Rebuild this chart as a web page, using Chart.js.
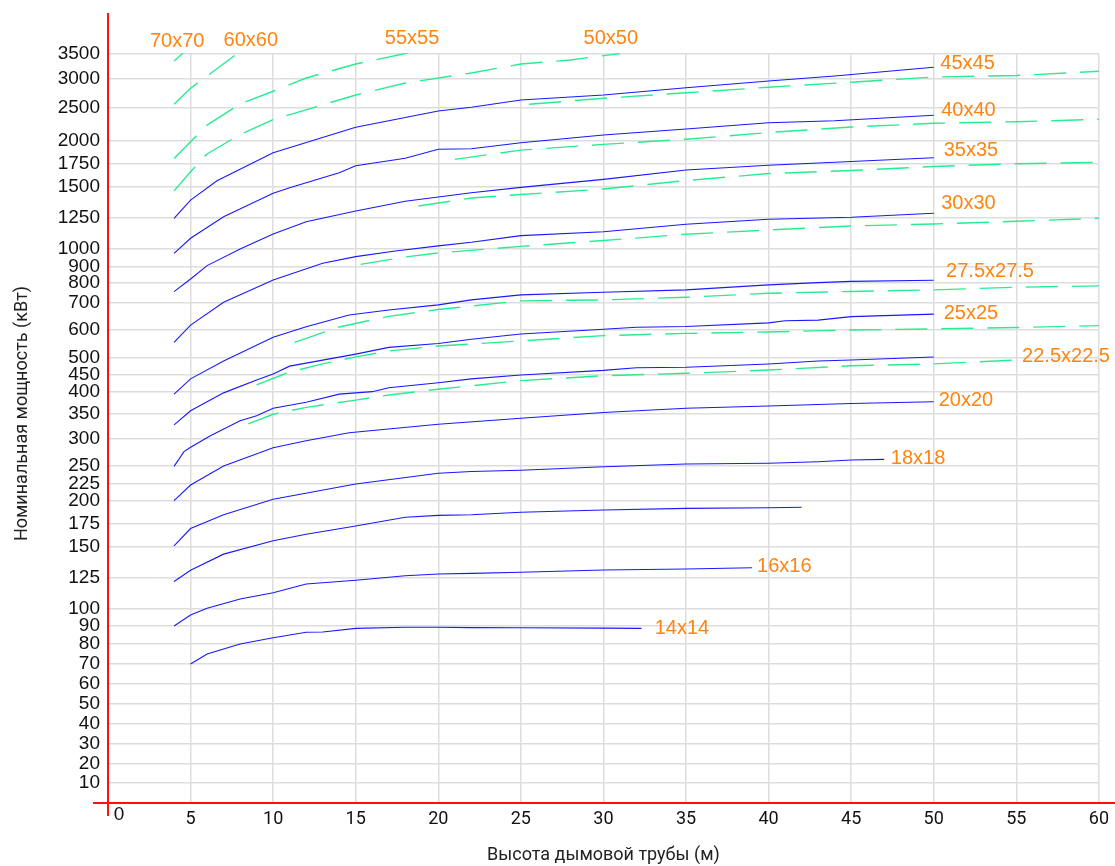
<!DOCTYPE html>
<html>
<head>
<meta charset="utf-8">
<script src="https://cdn.jsdelivr.net/npm/chart.js@4/dist/chart.umd.min.js"></script>
<style>
  html, body { margin: 0; padding: 0; background: #fff; }
</style>
</head>
<body>
<canvas id="myChart" width="1115" height="866"></canvas>
<script>
// tick labels
var yTicks = [10, 20, 30, 40, 50, 60, 70, 80, 90, 100, 125, 150, 175, 200, 225, 250, 300, 350, 400, 450, 500,
  600, 700, 800, 900, 1000, 1250, 1500, 1750, 2000, 2500, 3000, 3500];
// where each tick sits on the (hand drawn) power axis, as share of the axis height
var yTickShare = [0.0267, 0.0530, 0.0792, 0.1055, 0.1322, 0.1589, 0.1856, 0.2123, 0.2363, 0.2590, 0.3008, 0.3422,
  0.3725, 0.4036, 0.4268, 0.4499, 0.4869, 0.5203, 0.5487, 0.5724, 0.5941, 0.6315, 0.6680, 0.6947, 0.7160, 0.7401,
  0.7820, 0.8228, 0.8535, 0.8838, 0.9283, 0.9666, 1];

// solid (blue) curves: chimney height (m) -> rated power (kW)
var s14h = [5, 6, 8, 10, 12, 13, 15, 18, 20, 22, 25, 30, 32.3];
var s14p = [70, 75, 80, 83.5, 86.5, 86.7, 88.7, 89.3, 89.3, 89.1, 89, 88.8, 88.7];
var s16h = [4, 5, 6, 8, 10, 12, 15, 18, 20, 22, 25, 30, 35, 39];
var s16p = [90, 96.5, 100.6, 108, 113, 120, 123, 126.6, 128, 128.5, 129.4, 131.2, 132, 133];
var s17h = [4, 5, 7, 10, 12, 15, 18, 20, 22, 25, 30, 35, 40, 42];
var s17p = [122, 131, 144, 156.6, 163.7, 172.8, 182.2, 184.3, 185, 187.6, 190, 191.8, 192.5, 193];
var s18h = [4, 5, 7, 10, 15, 20, 22, 25, 30, 35, 40, 43, 45, 47];
var s18p = [151, 170, 185, 202, 224, 239.5, 242, 244, 249, 253.6, 255, 257.8, 260.8, 262];
var s20h = [4, 5, 7, 10, 12, 14.6, 20, 25, 30, 35, 40, 45, 50];
var s20p = [200, 222.6, 250, 283, 295.7, 311, 328, 340, 352, 362, 367, 373, 377];
var s22h = [4, 4.6, 5, 6.2, 8, 9, 10, 12, 14, 16, 17, 20, 22, 25, 30, 32, 35, 40, 43, 45, 50];
var s22p = [249.5, 276, 284, 305, 335, 345, 362, 376, 395, 401, 412, 426, 437, 448, 462, 470, 471.6, 481.4, 490.6, 494, 503.6];
var s25h = [4, 5, 7, 9, 10, 11, 15, 17, 20, 22, 25, 30, 32, 35, 40, 41, 43, 45, 50];
var s25p = [327, 356, 398, 434, 451, 475, 514, 538, 552, 567, 586, 603, 610, 613, 626, 634, 636, 649, 658];
var s27h = [4, 5, 7, 10, 12, 14.6, 17, 20, 22, 25, 30, 35, 40, 43, 45, 50];
var s27p = [395, 437, 491, 574, 612, 655, 673, 692, 714, 739, 752, 764, 789, 800, 808, 815];
var s30h = [4, 5, 7, 10, 13, 15, 17.4, 20, 22, 25, 30, 35, 40, 45, 50];
var s30p = [556, 618, 702, 817, 919, 956, 987, 1022, 1051, 1104, 1135, 1194, 1234, 1250, 1283];
var s35h = [4, 5, 6, 8, 10, 12, 15, 18, 20, 22, 25, 30, 35, 40, 45, 50];
var s35p = [755, 823, 906, 998, 1117, 1215, 1302, 1381, 1416, 1451, 1495, 1580, 1682, 1733, 1774, 1816];
var s40h = [4, 5, 7, 10, 11, 14, 15, 18, 20, 22, 25, 30, 35, 40, 44, 50];
var s40p = [974, 1083, 1255, 1446, 1492, 1652, 1728, 1810, 1909, 1915, 1981, 2090, 2180, 2275, 2305, 2386];
var s45h = [4, 5, 6.6, 10, 15, 20, 22, 25, 30, 35, 40, 44, 50];
var s45p = [1242, 1391, 1565, 1871, 2206, 2450, 2507, 2634, 2721, 2848, 2965, 3060, 3234];

// dashed (green) curves
var g22h = [8.5, 10, 12, 15, 17, 20, 25, 30, 35, 40, 45, 50, 55];
var g22p = [329, 348, 364, 381, 393, 408, 432, 446, 453, 463, 476, 482, 494];
var g25h = [9, 11, 13, 15, 17, 20, 25, 30, 35, 40, 45, 50, 55, 60];
var g25p = [420, 457, 482, 504, 525, 543, 561, 580, 588, 593, 600, 604, 609, 616];
var g27h = [11.3, 14, 17, 20, 25, 30, 35, 40, 45, 50, 55, 60];
var g27p = [556, 611, 650, 675, 709, 714, 727, 747, 756, 764, 777, 784];
var g30h = [15.3, 18, 20, 25, 30, 35, 40, 45, 50, 55, 60];
var g30p = [913, 954, 976, 1018, 1065, 1115, 1149, 1181, 1197, 1218, 1242];
var g35h = [18.8, 22, 25, 30, 35, 40, 45, 50, 55, 60];
var g35p = [1342, 1408, 1436, 1481, 1567, 1643, 1676, 1720, 1750, 1765];
var g40h = [21, 25, 30, 35, 40, 45, 50, 55, 60];
var g40p = [1798, 1900, 1963, 2026, 2128, 2210, 2266, 2290, 2326];
var g45h = [25.5, 30, 35, 40, 45, 50, 55, 60];
var g45p = [2559, 2665, 2761, 2857, 2944, 3040, 3070, 3154];
var g50h = [4, 5, 6, 8, 10, 12.5, 15, 18, 22, 25, 28, 31];
var g50p = [1466, 1662, 1857, 2098, 2323, 2507, 2721, 2930, 3120, 3300, 3380, 3510];
var g55h = [4, 5, 6, 8, 10, 12, 15, 18, 19];
var g55p = [1807, 1991, 2240, 2564, 2787, 3020, 3300, 3510, 3560];
var g60h = [4, 5, 8];
var g60p = [2560, 2840, 3550];
var g70h = [4, 5];
var g70p = [3360, 3650];

// curve names and where they are written (height m, power kW)
var names = ['70x70', '60x60', '55x55', '50x50', '45x45', '40x40', '35x35', '30x30', '27.5x27.5', '25x25',
  '22.5x22.5', '20x20', '18x18', '16x16', '14x14'];
var nameH = [2.54, 7.0, 16.76, 28.8, 50.4, 50.45, 50.6, 50.45, 50.75, 50.6, 55.35, 50.3, 47.4, 39.3, 33.1];
var nameP = [3760, 3780, 3820, 3820, 3320, 2465, 1901, 1359, 873, 662, 504, 379, 264, 134, 88.9];

var yStops = [0].concat(yTicks);
var yShares = [0].concat(yTickShare);

function shareOf(v) {
    var i = 1;
    while (i < yStops.length - 1 && v > yStops[i]) i++;
    return yShares[i - 1] + (v - yStops[i - 1]) / (yStops[i] - yStops[i - 1]) * (yShares[i] - yShares[i - 1]);
}
function valueOf(s) {
    var i = 1;
    while (i < yShares.length - 1 && s > yShares[i]) i++;
    return yStops[i - 1] + (s - yShares[i - 1]) / (yShares[i] - yShares[i - 1]) * (yStops[i] - yStops[i - 1]);
}

class StopScale extends Chart.LinearScale {
    static id = 'stops';
    static defaults = {};
    determineDataLimits() { this.min = 0; this.max = 3500; }
    buildTicks() { return yTicks.map(function (v) { return { value: v }; }); }
    getPixelForValue(v) { return this.getPixelForDecimal(shareOf(v)); }
    getValueForPixel(p) { return valueOf(this.getDecimalForPixel(p)); }
}
Chart.register(StopScale);

function curve(h, p, dashed) {
    return {
        data: h.map(function (v, i) { return { x: v, y: p[i] }; }),
        borderColor: dashed ? 'rgb(40,236,145)' : 'rgb(25,25,255)',
        borderWidth: dashed ? 1.4 : 1.1,
        borderDash: dashed ? [32, 14] : [],
        pointRadius: 0,
        tension: 0,
        fill: false
    };
}

var overlay = {
    id: 'overlay',
    afterDatasetsDraw: function (chart) {
        var ctx = chart.ctx, a = chart.chartArea, x = chart.scales.x, y = chart.scales.y;
        ctx.save();
        ctx.font = '20px "Liberation Sans", Arial, sans-serif';
        ctx.fillStyle = '#ff8410';
        ctx.textAlign = 'left';
        ctx.textBaseline = 'middle';
        names.forEach(function (n, i) {
            ctx.fillText(n, x.getPixelForValue(nameH[i]), y.getPixelForValue(nameP[i]));
        });
        // red axes
        ctx.strokeStyle = '#ff1010';
        ctx.lineWidth = 2;
        ctx.beginPath();
        ctx.moveTo(a.left - 15, a.bottom);
        ctx.lineTo(chart.width, a.bottom);
        ctx.moveTo(a.left, a.top - 41);
        ctx.lineTo(a.left, a.bottom + 13);
        ctx.stroke();
        ctx.fillStyle = '#111';
        ctx.font = '19px "Liberation Sans", Arial, sans-serif';
        ctx.textAlign = 'center';
        ctx.fillText('0', a.left + 11, a.bottom + 12);
        // y axis title, sits a little above the middle
        ctx.fillStyle = '#222';
        ctx.font = '18px Roboto, sans-serif';
        ctx.translate(22, (a.top + a.bottom) / 2 - 15);
        ctx.rotate(-Math.PI / 2);
        ctx.fillText('Номинальная мощность (кВт)', 0, 0);
        ctx.restore();
    }
};

var ctx = document.getElementById('myChart').getContext('2d');
var myChart = new Chart(ctx, {
    type: 'line',
    data: {
        datasets: [
            curve(s14h, s14p), curve(s16h, s16p), curve(s17h, s17p), curve(s18h, s18p),
            curve(s20h, s20p), curve(s22h, s22p), curve(s25h, s25p), curve(s27h, s27p),
            curve(s30h, s30p), curve(s35h, s35p), curve(s40h, s40p), curve(s45h, s45p),
            curve(g22h, g22p, true), curve(g25h, g25p, true), curve(g27h, g27p, true), curve(g30h, g30p, true),
            curve(g35h, g35p, true), curve(g40h, g40p, true), curve(g45h, g45p, true), curve(g50h, g50p, true),
            curve(g55h, g55p, true), curve(g60h, g60p, true), curve(g70h, g70p, true)
        ]
    },
    options: {
        responsive: false,
        animation: false,
        layout: { padding: { top: 54, right: 15, left: 0, bottom: 0 } },
        plugins: {
            legend: { display: false },
            tooltip: { enabled: false }
        },
        scales: {
            x: {
                type: 'linear',
                min: 0,
                max: 60,
                afterFit: function (s) { s.height = 63; },
                border: { display: false },
                grid: { color: '#dddddd', lineWidth: 1.5, drawTicks: false },
                ticks: {
                    stepSize: 5,
                    padding: 6,
                    color: '#111',
                    font: { family: 'Roboto, sans-serif', size: 18 },
                    callback: function (v) { return v === 0 ? '' : v; }
                },
                title: {
                    display: true,
                    text: 'Высота дымовой трубы (м)',
                    color: '#222',
                    font: { family: 'Roboto, sans-serif', size: 18 },
                    padding: { top: 0, bottom: 0 }
                }
            },
            y: {
                type: 'stops',
                afterFit: function (s) { s.width = 108; },
                border: { display: false },
                grid: { color: '#dddddd', lineWidth: 1.5, drawTicks: false },
                ticks: {
                    autoSkip: false,
                    padding: 8,
                    color: '#111',
                    font: { family: '"Liberation Sans", Arial, sans-serif', size: 19 },
                    callback: function (v) { return String(v); }
                }
            }
        }
    },
    plugins: [overlay]
});
</script>
</body>
</html>
